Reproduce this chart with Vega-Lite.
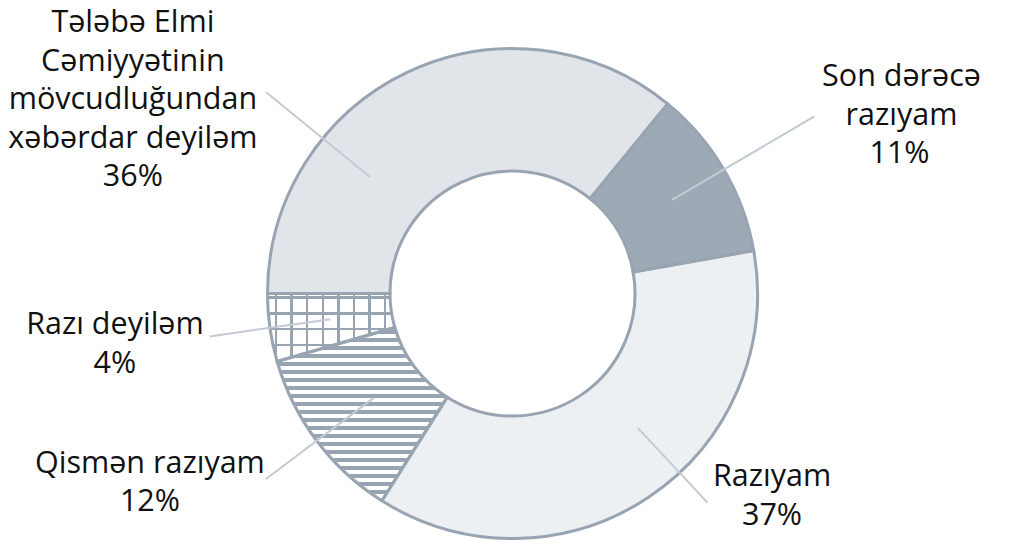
{
  "$schema": "https://vega.github.io/schema/vega-lite/v6.json",
  "autosize": {"type": "none"},
  "width": 1009,
  "height": 501,
  "padding": {"left": 8, "top": 43, "right": 0, "bottom": 0},
  "background": "#ffffff",
  "config": {"view": {"stroke": null}, "text": {"font": "Open Sans"}},
  "data": {
    "values": [
      {"idx": 1, "name": "Son dərəcə\nrazıyam", "share": 0.1128},
      {"idx": 2, "name": "Razıyam", "share": 0.3675},
      {"idx": 3, "name": "Qismən razıyam", "share": 0.1158},
      {"idx": 4, "name": "Razı deyiləm", "share": 0.0447},
      {"idx": 5, "name": "Tələbə Elmi\nCəmiyyətinin\nmövcudluğundan\nxəbərdar deyiləm", "share": 0.3592}
    ]
  },
  "encoding": {
    "theta": {"field": "share", "type": "quantitative", "stack": true, "scale": {"domain": [0, 1], "range": [0.68591, 6.9691]}},
    "order": {"field": "idx", "type": "quantitative"}
  },
  "layer": [
    {
      "mark": {"type": "arc", "outerRadius": 245, "innerRadius": 122.5, "strokeWidth": 0},
      "encoding": {
        "fill": {
          "condition": [
            {"test": "datum.idx === 1", "value": "#9ea9b6"},
            {"test": "datum.idx === 2", "value": "#edf0f2"},
            {"test": "datum.idx === 3", "value": {"gradient": "linear", "x1": 0, "y1": 0, "x2": 0, "y2": 1, "stops": [
              {"offset": 0, "color": "#ffffff"}, {"offset": 0.0144, "color": "#ffffff"}, {"offset": 0.0144, "color": "#98a4b2"}, {"offset": 0.0375, "color": "#98a4b2"}, {"offset": 0.0375, "color": "#ffffff"},
              {"offset": 0.0606, "color": "#ffffff"}, {"offset": 0.0606, "color": "#98a4b2"}, {"offset": 0.0837, "color": "#98a4b2"}, {"offset": 0.0837, "color": "#ffffff"},
              {"offset": 0.1068, "color": "#ffffff"}, {"offset": 0.1068, "color": "#98a4b2"}, {"offset": 0.1298, "color": "#98a4b2"}, {"offset": 0.1298, "color": "#ffffff"},
              {"offset": 0.1529, "color": "#ffffff"}, {"offset": 0.1529, "color": "#98a4b2"}, {"offset": 0.1760, "color": "#98a4b2"}, {"offset": 0.1760, "color": "#ffffff"},
              {"offset": 0.1991, "color": "#ffffff"}, {"offset": 0.1991, "color": "#98a4b2"}, {"offset": 0.2222, "color": "#98a4b2"}, {"offset": 0.2222, "color": "#ffffff"},
              {"offset": 0.2452, "color": "#ffffff"}, {"offset": 0.2452, "color": "#98a4b2"}, {"offset": 0.2683, "color": "#98a4b2"}, {"offset": 0.2683, "color": "#ffffff"},
              {"offset": 0.2914, "color": "#ffffff"}, {"offset": 0.2914, "color": "#98a4b2"}, {"offset": 0.3145, "color": "#98a4b2"}, {"offset": 0.3145, "color": "#ffffff"},
              {"offset": 0.3376, "color": "#ffffff"}, {"offset": 0.3376, "color": "#98a4b2"}, {"offset": 0.3606, "color": "#98a4b2"}, {"offset": 0.3606, "color": "#ffffff"},
              {"offset": 0.3837, "color": "#ffffff"}, {"offset": 0.3837, "color": "#98a4b2"}, {"offset": 0.4068, "color": "#98a4b2"}, {"offset": 0.4068, "color": "#ffffff"},
              {"offset": 0.4299, "color": "#ffffff"}, {"offset": 0.4299, "color": "#98a4b2"}, {"offset": 0.4530, "color": "#98a4b2"}, {"offset": 0.4530, "color": "#ffffff"},
              {"offset": 0.4761, "color": "#ffffff"}, {"offset": 0.4761, "color": "#98a4b2"}, {"offset": 0.4991, "color": "#98a4b2"}, {"offset": 0.4991, "color": "#ffffff"},
              {"offset": 0.5222, "color": "#ffffff"}, {"offset": 0.5222, "color": "#98a4b2"}, {"offset": 0.5453, "color": "#98a4b2"}, {"offset": 0.5453, "color": "#ffffff"},
              {"offset": 0.5684, "color": "#ffffff"}, {"offset": 0.5684, "color": "#98a4b2"}, {"offset": 0.5915, "color": "#98a4b2"}, {"offset": 0.5915, "color": "#ffffff"},
              {"offset": 0.6145, "color": "#ffffff"}, {"offset": 0.6145, "color": "#98a4b2"}, {"offset": 0.6376, "color": "#98a4b2"}, {"offset": 0.6376, "color": "#ffffff"},
              {"offset": 0.6607, "color": "#ffffff"}, {"offset": 0.6607, "color": "#98a4b2"}, {"offset": 0.6838, "color": "#98a4b2"}, {"offset": 0.6838, "color": "#ffffff"},
              {"offset": 0.7069, "color": "#ffffff"}, {"offset": 0.7069, "color": "#98a4b2"}, {"offset": 0.7299, "color": "#98a4b2"}, {"offset": 0.7299, "color": "#ffffff"},
              {"offset": 0.7530, "color": "#ffffff"}, {"offset": 0.7530, "color": "#98a4b2"}, {"offset": 0.7761, "color": "#98a4b2"}, {"offset": 0.7761, "color": "#ffffff"},
              {"offset": 0.7992, "color": "#ffffff"}, {"offset": 0.7992, "color": "#98a4b2"}, {"offset": 0.8223, "color": "#98a4b2"}, {"offset": 0.8223, "color": "#ffffff"},
              {"offset": 0.8454, "color": "#ffffff"}, {"offset": 0.8454, "color": "#98a4b2"}, {"offset": 0.8684, "color": "#98a4b2"}, {"offset": 0.8684, "color": "#ffffff"},
              {"offset": 0.8915, "color": "#ffffff"}, {"offset": 0.8915, "color": "#98a4b2"}, {"offset": 0.9146, "color": "#98a4b2"}, {"offset": 0.9146, "color": "#ffffff"},
              {"offset": 0.9377, "color": "#ffffff"}, {"offset": 0.9377, "color": "#98a4b2"}, {"offset": 0.9608, "color": "#98a4b2"}, {"offset": 0.9608, "color": "#ffffff"},
              {"offset": 0.9838, "color": "#ffffff"}, {"offset": 0.9838, "color": "#98a4b2"}, {"offset": 1, "color": "#98a4b2"}
            ]}},
            {"test": "datum.idx === 4", "value": {"gradient": "linear", "x1": 0, "y1": 0, "x2": 0, "y2": 1, "stops": [
              {"offset": 0, "color": "#ffffff"}, {"offset": 0.0412, "color": "#ffffff"}, {"offset": 0.0412, "color": "#98a4b2"}, {"offset": 0.0766, "color": "#98a4b2"}, {"offset": 0.0766, "color": "#ffffff"},
              {"offset": 0.2739, "color": "#ffffff"}, {"offset": 0.2739, "color": "#98a4b2"}, {"offset": 0.3093, "color": "#98a4b2"}, {"offset": 0.3093, "color": "#ffffff"},
              {"offset": 0.5066, "color": "#ffffff"}, {"offset": 0.5066, "color": "#98a4b2"}, {"offset": 0.5420, "color": "#98a4b2"}, {"offset": 0.5420, "color": "#ffffff"},
              {"offset": 0.7394, "color": "#ffffff"}, {"offset": 0.7394, "color": "#98a4b2"}, {"offset": 0.7747, "color": "#98a4b2"}, {"offset": 0.7747, "color": "#ffffff"},
              {"offset": 0.9720, "color": "#ffffff"}, {"offset": 0.9720, "color": "#98a4b2"}, {"offset": 1, "color": "#98a4b2"}
            ]}}
          ],
          "value": "#e1e5e9"
        }
      }
    },
    {
      "mark": {"type": "arc", "outerRadius": 245, "innerRadius": 122.5, "stroke": "#98a4b2", "strokeWidth": 3},
      "encoding": {
        "fill": {
          "condition": {"test": "datum.idx === 4", "value": {"gradient": "linear", "x1": 0, "y1": 0, "x2": 1, "y2": 0, "stops": [
            {"offset": 0, "color": "rgba(255,255,255,0)"}, {"offset": 0.0573, "color": "rgba(255,255,255,0)"}, {"offset": 0.0573, "color": "#98a4b2"}, {"offset": 0.0762, "color": "#98a4b2"}, {"offset": 0.0762, "color": "rgba(255,255,255,0)"},
            {"offset": 0.1799, "color": "rgba(255,255,255,0)"}, {"offset": 0.1799, "color": "#98a4b2"}, {"offset": 0.1987, "color": "#98a4b2"}, {"offset": 0.1987, "color": "rgba(255,255,255,0)"},
            {"offset": 0.3024, "color": "rgba(255,255,255,0)"}, {"offset": 0.3024, "color": "#98a4b2"}, {"offset": 0.3213, "color": "#98a4b2"}, {"offset": 0.3213, "color": "rgba(255,255,255,0)"},
            {"offset": 0.4250, "color": "rgba(255,255,255,0)"}, {"offset": 0.4250, "color": "#98a4b2"}, {"offset": 0.4438, "color": "#98a4b2"}, {"offset": 0.4438, "color": "rgba(255,255,255,0)"},
            {"offset": 0.5475, "color": "rgba(255,255,255,0)"}, {"offset": 0.5475, "color": "#98a4b2"}, {"offset": 0.5664, "color": "#98a4b2"}, {"offset": 0.5664, "color": "rgba(255,255,255,0)"},
            {"offset": 0.6701, "color": "rgba(255,255,255,0)"}, {"offset": 0.6701, "color": "#98a4b2"}, {"offset": 0.6889, "color": "#98a4b2"}, {"offset": 0.6889, "color": "rgba(255,255,255,0)"},
            {"offset": 0.7926, "color": "rgba(255,255,255,0)"}, {"offset": 0.7926, "color": "#98a4b2"}, {"offset": 0.8115, "color": "#98a4b2"}, {"offset": 0.8115, "color": "rgba(255,255,255,0)"},
            {"offset": 0.9152, "color": "rgba(255,255,255,0)"}, {"offset": 0.9152, "color": "#98a4b2"}, {"offset": 0.9340, "color": "#98a4b2"}, {"offset": 0.9340, "color": "rgba(255,255,255,0)"},
            {"offset": 1, "color": "rgba(255,255,255,0)"}
          ]}},
          "value": "transparent"
        }
      }
    },
    {
      "mark": {"type": "arc", "innerRadius": 185, "outerRadius": 350, "padAngle": 3, "filled": false, "stroke": "#c3cad3", "strokeWidth": 2},
      "encoding": {"strokeOpacity": {"condition": {"test": "datum.idx === 1", "value": 1}, "value": 0}}
    },
    {
      "mark": {"type": "arc", "innerRadius": 184, "outerRadius": 286, "padAngle": 3, "thetaOffset": -0.158, "theta2Offset": -0.158, "filled": false, "stroke": "#c3cad3", "strokeWidth": 2},
      "encoding": {"strokeOpacity": {"condition": {"test": "datum.idx === 2", "value": 1}, "value": 0}}
    },
    {
      "mark": {"type": "arc", "innerRadius": 174, "outerRadius": 309, "padAngle": 3, "filled": false, "stroke": "#c3cad3", "strokeWidth": 2},
      "encoding": {"strokeOpacity": {"condition": {"test": "datum.idx === 3", "value": 1}, "value": 0}}
    },
    {
      "mark": {"type": "arc", "innerRadius": 184, "outerRadius": 306, "padAngle": 3, "filled": false, "stroke": "#c3cad3", "strokeWidth": 2},
      "encoding": {"strokeOpacity": {"condition": {"test": "datum.idx === 4", "value": 1}, "value": 0}}
    },
    {
      "mark": {"type": "arc", "innerRadius": 184, "outerRadius": 318, "padAngle": 3, "thetaOffset": -0.4433, "theta2Offset": -0.4433, "filled": false, "stroke": "#c3cad3", "strokeWidth": 2},
      "encoding": {"strokeOpacity": {"condition": {"test": "datum.idx === 5", "value": 1}, "value": 0}}
    },
    {
      "mark": {"type": "text", "radius": 400, "dx": 44, "dy": -5.1, "align": "center", "baseline": "alphabetic", "fontSize": 30.5, "lineHeight": 38.5, "lineBreak": "\n", "color": "#111111"},
      "encoding": {"text": {"field": "name", "type": "nominal", "condition": {"test": "datum.idx !== 1", "value": ""}}}
    },
    {
      "mark": {"type": "text", "radius": 400, "dx": 42, "dy": 71.9, "align": "center", "baseline": "alphabetic", "fontSize": 30.5, "color": "#111111"},
      "encoding": {"text": {"field": "share", "type": "quantitative", "format": ".0%", "condition": {"test": "datum.idx !== 1", "value": ""}}}
    },
    {
      "mark": {"type": "text", "radius": 305, "dx": 89.2, "dy": -60.5, "align": "center", "baseline": "alphabetic", "fontSize": 30.5, "lineHeight": 38.5, "lineBreak": "\n", "color": "#111111"},
      "encoding": {"text": {"field": "name", "type": "nominal", "condition": {"test": "datum.idx !== 2", "value": ""}}}
    },
    {
      "mark": {"type": "text", "radius": 305, "dx": 89.2, "dy": -22, "align": "center", "baseline": "alphabetic", "fontSize": 30.5, "color": "#111111"},
      "encoding": {"text": {"field": "share", "type": "quantitative", "format": ".0%", "condition": {"test": "datum.idx !== 2", "value": ""}}}
    },
    {
      "mark": {"type": "text", "radius": 400, "dx": -42.9, "dy": -61.0, "align": "center", "baseline": "alphabetic", "fontSize": 30.5, "lineHeight": 38.5, "lineBreak": "\n", "color": "#111111"},
      "encoding": {"text": {"field": "name", "type": "nominal", "condition": {"test": "datum.idx !== 3", "value": ""}}}
    },
    {
      "mark": {"type": "text", "radius": 400, "dx": -42.9, "dy": -22.5, "align": "center", "baseline": "alphabetic", "fontSize": 30.5, "color": "#111111"},
      "encoding": {"text": {"field": "share", "type": "quantitative", "format": ".0%", "condition": {"test": "datum.idx !== 3", "value": ""}}}
    },
    {
      "mark": {"type": "text", "radius": 400, "dx": -1.5, "dy": -15.5, "align": "center", "baseline": "alphabetic", "fontSize": 30.5, "lineHeight": 38.5, "lineBreak": "\n", "color": "#111111"},
      "encoding": {"text": {"field": "name", "type": "nominal", "condition": {"test": "datum.idx !== 4", "value": ""}}}
    },
    {
      "mark": {"type": "text", "radius": 400, "dx": -1.5, "dy": 23, "align": "center", "baseline": "alphabetic", "fontSize": 30.5, "color": "#111111"},
      "encoding": {"text": {"field": "share", "type": "quantitative", "format": ".0%", "condition": {"test": "datum.idx !== 4", "value": ""}}}
    },
    {
      "mark": {"type": "text", "radius": 400, "dx": -208.3, "dy": 100, "align": "center", "baseline": "alphabetic", "fontSize": 30.5, "lineHeight": 38.5, "lineBreak": "\n", "color": "#111111"},
      "encoding": {"text": {"field": "name", "type": "nominal", "condition": {"test": "datum.idx !== 5", "value": ""}}}
    },
    {
      "mark": {"type": "text", "radius": 400, "dx": -208.3, "dy": 254, "align": "center", "baseline": "alphabetic", "fontSize": 30.5, "color": "#111111"},
      "encoding": {"text": {"field": "share", "type": "quantitative", "format": ".0%", "condition": {"test": "datum.idx !== 5", "value": ""}}}
    }
  ]
}
